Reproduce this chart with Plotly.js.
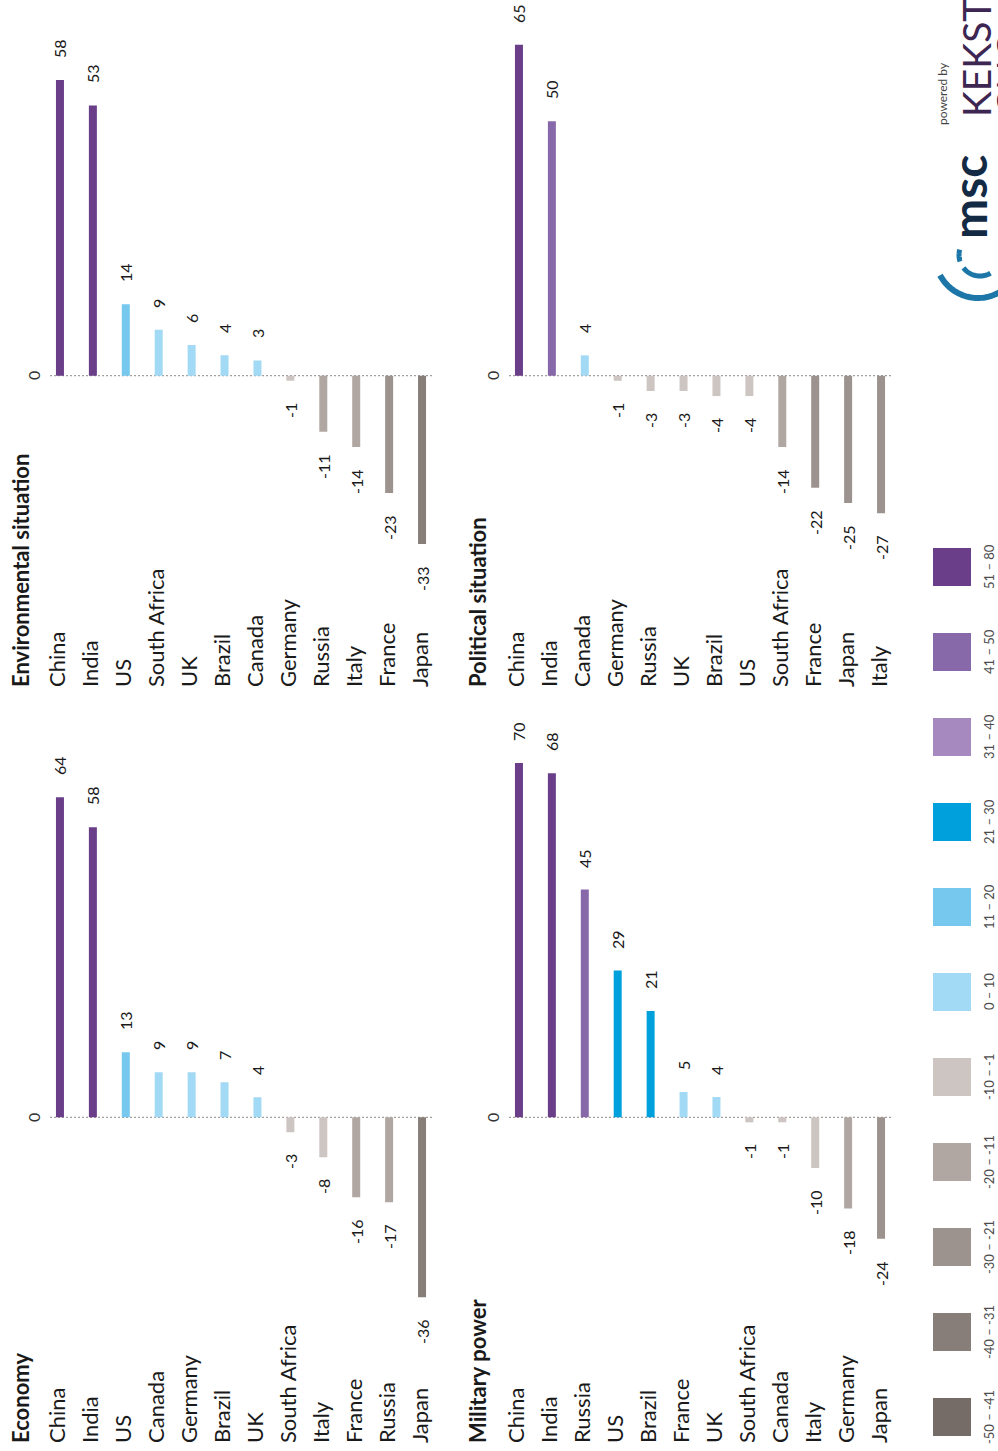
<!DOCTYPE html>
<html>
<head>
<meta charset="utf-8">
<script src="https://cdn.plot.ly/plotly-3.0.1.min.js"></script>
<style>
html,body{margin:0;padding:0;background:#fff;overflow:hidden;width:998px;height:1451px;}
#chart{position:absolute;left:0;top:0;width:1451px;height:998px;transform-origin:0 0;transform:translateY(1451px) rotate(-90deg);}
</style>
</head>
<body>
<div id="chart"></div>
<script>
// ---------------- DATA ----------------
const categoriesEconomy = ['China','India','US','Canada','Germany','Brazil','UK','South Africa','Italy','France','Russia','Japan'];
const valuesEconomy = [64,58,13,9,9,7,4,-3,-8,-16,-17,-36];

const categoriesEnvironment = ['China','India','US','South Africa','UK','Brazil','Canada','Germany','Russia','Italy','France','Japan'];
const valuesEnvironment = [58,53,14,9,6,4,3,-1,-11,-14,-23,-33];

const categoriesMilitary = ['China','India','Russia','US','Brazil','France','UK','South Africa','Canada','Italy','Germany','Japan'];
const valuesMilitary = [70,68,45,29,21,5,4,-1,-1,-10,-18,-24];

const categoriesPolitical = ['China','India','Canada','Germany','Russia','UK','Brazil','US','South Africa','France','Japan','Italy'];
const valuesPolitical = [65,50,4,-1,-3,-3,-4,-4,-14,-22,-25,-27];

const panelTitles = ['Economy','Environmental situation','Military power','Political situation'];

const legendLabels = ['-50 – -41','-40 – -31','-30 – -21','-20 – -11','-10 – -1','0 – 10','11 – 20','21 – 30','31 – 40','41 – 50','51 – 80'];
const legendLower  = [-50,-40,-30,-20,-10,0,11,21,31,41,51];
const legendColors = ['#766c67','#877e79','#9c938e','#b1a7a2','#cdc5c2','#a2d9f4','#76c8ef','#00a0dc','#a689bf','#8769a9','#6a3e88'];

// ---------------- HELPERS ----------------
const LW = 1451, LH = 998;
const px = x => x / LW;
const py = y => 1 - y / LH;
function colorFor(v){
  let c = legendColors[0];
  for (let i = 0; i < legendLower.length; i++) if (v >= legendLower[i]) c = legendColors[i];
  return c;
}

const panels = [
  {cats: categoriesEconomy,    vals: valuesEconomy,    title: panelTitles[0], n:'',  xDom:[140,720],  yDom:[43.5,438.5],  zero:333.7,  scale:5.00, labelX:5.5,   titleY:20.3},
  {cats: categoriesEnvironment,vals: valuesEnvironment,title: panelTitles[1], n:'2', xDom:[880,1445], yDom:[43.5,438.5],  zero:1075.3, scale:5.10, labelX:761.5, titleY:20.3},
  {cats: categoriesMilitary,   vals: valuesMilitary,   title: panelTitles[2], n:'3', xDom:[140,720],  yDom:[502.5,897.5], zero:333.7,  scale:5.06, labelX:5.5,   titleY:478},
  {cats: categoriesPolitical,  vals: valuesPolitical,  title: panelTitles[3], n:'4', xDom:[880,1445], yDom:[502.5,897.5], zero:1075.3, scale:5.09, labelX:761.5, titleY:478}
];

const FONT = 'Lato, "Open Sans", sans-serif';
const traces = [];
const layout = {
  width: LW, height: LH, autosize:false,
  margin:{l:0,r:0,t:0,b:0,pad:0},
  paper_bgcolor:'#ffffff', plot_bgcolor:'rgba(0,0,0,0)',
  bargap: 0.757,
  showlegend:false,
  font:{family:FONT, color:'#1a1a1a'},
  annotations:[], shapes:[]
};

panels.forEach(p => {
  const xa = 'x' + p.n, ya = 'y' + p.n;
  traces.push({
    type:'bar', orientation:'h', x:p.vals, y:p.cats, xaxis:xa, yaxis:ya,
    marker:{color:p.vals.map(colorFor), line:{width:0}},
    hoverinfo:'skip', cliponaxis:false
  });
  layout['xaxis' + p.n] = {
    domain:[px(p.xDom[0]), px(p.xDom[1])],
    range:[(p.xDom[0]-p.zero)/p.scale, (p.xDom[1]-p.zero)/p.scale],
    visible:false, fixedrange:true, anchor:ya, showgrid:false, zeroline:false
  };
  layout['yaxis' + p.n] = {
    domain:[py(p.yDom[1]), py(p.yDom[0])],
    type:'category', range:[11.5,-0.5],
    visible:false, fixedrange:true, anchor:xa, showgrid:false, zeroline:false
  };
  const h = p.yDom[1]-p.yDom[0];
  // dotted zero line
  layout.shapes.push({
    type:'line', xref:xa, yref:ya+' domain', x0:0, x1:0,
    y0:(p.yDom[1]-432-(p.yDom[0]-43.5))/h, y1:(p.yDom[1]-48-(p.yDom[0]-43.5))/h,
    line:{color:'#a59f9c', width:1.3, dash:'2px,2px'}, layer:'below'
  });
  // zero label
  layout.annotations.push({
    xref:xa, yref:ya+' domain', x:0, y:1 + 10.5/h, text:'0', showarrow:false,
    xanchor:'center', yanchor:'middle', font:{family:FONT, size:16, color:'#333333'}
  });
  // title
  layout.annotations.push({
    xref:'paper', yref:'paper', x:px(p.labelX), y:py(p.titleY), text:'<b>'+p.title+'</b>',
    showarrow:false, xanchor:'left', yanchor:'middle', font:{family:FONT, size:22, color:'#1a1a1a'}
  });
  // category labels + value labels
  p.cats.forEach((c, i) => {
    layout.annotations.push({
      xref:'paper', yref:ya, x:px(p.labelX), y:c, text:c, showarrow:false,
      xanchor:'left', yanchor:'middle', yshift:3, font:{family:FONT, size:22, color:'#1a1a1a'}
    });
    const v = p.vals[i];
    layout.annotations.push({
      xref:xa, yref:ya, x:v, y:c, text:String(v), showarrow:false,
      xanchor: v >= 0 ? 'left' : 'right', xshift: v >= 0 ? 20 : -20, yanchor:'middle',
      font:{family:FONT, size:16, color:'#1a1a1a'}
    });
  });
});

// ---------------- LEGEND ----------------
legendLabels.forEach((lab, i) => {
  const cx = 34 + 85 * i;
  layout.shapes.push({
    type:'rect', xref:'paper', yref:'paper',
    x0:px(cx-19), x1:px(cx+19), y0:py(971), y1:py(933),
    fillcolor:legendColors[i], line:{width:0}
  });
  layout.annotations.push({
    xref:'paper', yref:'paper', x:px(cx), y:py(989), text:lab, showarrow:false,
    xanchor:'center', yanchor:'middle', borderpad:0, borderwidth:0,
    font:{family:FONT, size:13, color:'#4d4d4d'}
  });
});

// ---------------- LOGOS ----------------
function arcPath(cx, cy, r, a0, a1){
  const steps = 40; let d = '';
  for (let k = 0; k <= steps; k++){
    const a = (a0 + (a1-a0)*k/steps) * Math.PI/180;
    const x = cx + r*Math.cos(a), y = cy + r*Math.sin(a);
    d += (k === 0 ? 'M ' : ' L ') + px(x).toFixed(5) + ',' + py(y).toFixed(5);
  }
  return d;
}
const logoBlue = '#1c77a8';
layout.shapes.push({type:'path', xref:'paper', yref:'paper', path:arcPath(1196,978,43,242,140), line:{color:logoBlue, width:6}, fillcolor:'rgba(0,0,0,0)', layer:'above'});
layout.shapes.push({type:'path', xref:'paper', yref:'paper', path:arcPath(1196,980,21,232,150), line:{color:logoBlue, width:5}, fillcolor:'rgba(0,0,0,0)', layer:'above'});
layout.shapes.push({type:'path', xref:'paper', yref:'paper', path:arcPath(1196,980,21,252,285), line:{color:logoBlue, width:5}, fillcolor:'rgba(0,0,0,0)', layer:'above'});
layout.annotations.push({xref:'paper', yref:'paper', x:px(1210), y:py(968.5), text:'<b>msc</b>', showarrow:false, xanchor:'left', yanchor:'middle', font:{family:FONT, size:48, color:'#132a44'}});
layout.annotations.push({xref:'paper', yref:'paper', x:px(1324), y:py(942), text:'powered by', showarrow:false, xanchor:'left', yanchor:'middle', font:{family:FONT, size:12, color:'#444444'}});
layout.annotations.push({xref:'paper', yref:'paper', x:px(1333), y:py(976), text:'KEKST', showarrow:false, xanchor:'left', yanchor:'middle', borderpad:0, font:{family:FONT, size:39, color:'#3d2652'}});
layout.annotations.push({xref:'paper', yref:'paper', x:px(1333), y:py(1010), text:'CNC', showarrow:false, xanchor:'left', yanchor:'middle', font:{family:FONT, size:39, color:'#3d2652'}});

Plotly.newPlot('chart', traces, layout, {displayModeBar:false, staticPlot:true});
</script>
</body>
</html>
